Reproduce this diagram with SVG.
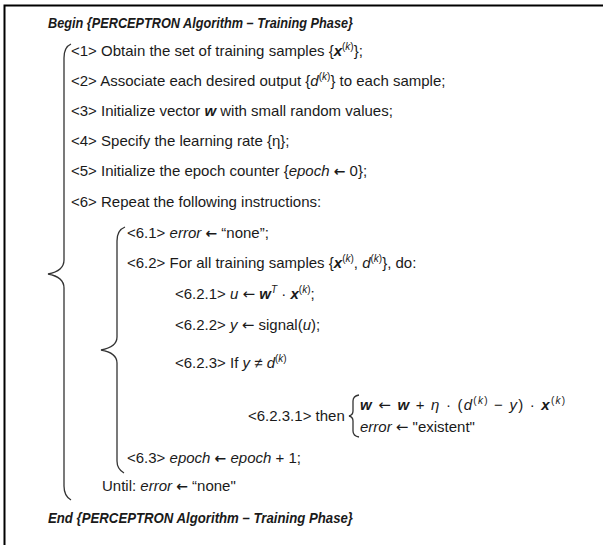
<svg xmlns="http://www.w3.org/2000/svg" width="613" height="545" viewBox="0 0 613 545">
<style>
.t{font-family:"Liberation Sans",Arial,Helvetica,sans-serif;font-size:15px;fill:#1a1a1a}
.h{font-weight:bold;font-style:italic}
.i{font-style:italic}
.bi{font-weight:bold;font-style:italic}
.s{font-size:10px}
.a{font-family:"DejaVu Sans",sans-serif;font-size:15px}
.ab{font-family:"DejaVu Sans",sans-serif;font-size:14px;font-weight:bold}
.br{fill:none;stroke:#333;stroke-width:1.3}
.frame{fill:none;stroke:#000;stroke-width:2}
</style>
<rect width="613" height="545" fill="#fff"/>
<g id="frame"><path class="frame" d="M4.5,546 V5.5 H603"/></g>
<g id="braces">
<path class="br" d="M71,44 Q64,47 64,58 V260 Q64,271 48,274 Q64,277 64,288 V486 Q64,496 71,500"/>
<path class="br" d="M125,227 Q117,230 117,241 V337 Q117,347 101,350 Q117,353 117,363 V461 Q117,469 124,473"/>
<path class="br" d="M359,395 Q353,396 353,401 V411 Q353,415 349,416 Q353,417 353,421 V431 Q353,436 359,437"/>
</g>
<g id="title"><text class="t h" x="48" y="28" textLength="305" lengthAdjust="spacingAndGlyphs">Begin {PERCEPTRON Algorithm – Training Phase}</text></g>
<g id="s1"><text class="t" x="71" y="56">&lt;1&gt; Obtain the set of training samples {<tspan class="bi">x</tspan><tspan class="s" dy="-6">(<tspan class="i">k</tspan>)</tspan><tspan dy="6">};</tspan></text></g>
<g id="s2"><text class="t" x="71" y="86">&lt;2&gt; Associate each desired output {<tspan class="i">d</tspan><tspan class="s" dy="-6">(<tspan class="i">k</tspan>)</tspan><tspan dy="6">} to each sample;</tspan></text></g>
<g id="s3"><text class="t" x="71" y="116">&lt;3&gt; Initialize vector <tspan class="bi">w</tspan> with small random values;</text></g>
<g id="s4"><text class="t" x="71" y="146">&lt;4&gt; Specify the learning rate {η};</text></g>
<g id="s5"><text class="t" x="71" y="176">&lt;5&gt; Initialize the epoch counter {<tspan class="i">epoch</tspan> <tspan class="ab">←</tspan> 0};</text></g>
<g id="s6"><text class="t" x="71" y="207">&lt;6&gt; Repeat the following instructions:</text></g>
<g id="s61"><text class="t" x="127" y="238">&lt;6.1&gt; <tspan class="i">error</tspan> <tspan class="ab">←</tspan> “none”;</text></g>
<g id="s62"><text class="t" x="127" y="268">&lt;6.2&gt; For all training samples {<tspan class="bi">x</tspan><tspan class="s" dy="-6">(<tspan class="i">k</tspan>)</tspan><tspan dy="6">, </tspan><tspan class="i">d</tspan><tspan class="s" dy="-6">(<tspan class="i">k</tspan>)</tspan><tspan dy="6">}, do:</tspan></text></g>
<g id="s621"><text class="t" x="175" y="299">&lt;6.2.1&gt; <tspan class="i">u</tspan> <tspan class="a">←</tspan> <tspan class="bi">w</tspan><tspan class="s i" dy="-6">T</tspan><tspan dy="6"> · </tspan><tspan class="bi">x</tspan><tspan class="s" dy="-6">(<tspan class="i">k</tspan>)</tspan><tspan dy="6">;</tspan></text></g>
<g id="s622"><text class="t" x="175" y="330">&lt;6.2.2&gt; <tspan class="i">y</tspan> <tspan class="a">←</tspan> signal(<tspan class="i">u</tspan>);</text></g>
<g id="s623"><text class="t" x="175" y="368">&lt;6.2.3&gt; If <tspan class="i">y</tspan> ≠ <tspan class="i">d</tspan><tspan class="s" dy="-6">(<tspan class="i">k</tspan>)</tspan></text></g>
<g id="s6231">
<text class="t" x="248" y="421">&lt;6.2.3.1&gt; then</text>
<text class="t" x="360" y="410" textLength="205" lengthAdjust="spacing"><tspan class="bi">w</tspan> <tspan class="a">←</tspan> <tspan class="bi">w</tspan> + <tspan class="i">η</tspan> · (<tspan class="i">d</tspan><tspan class="s" dy="-6">(<tspan class="i">k</tspan>)</tspan><tspan dy="6"> − </tspan><tspan class="i">y</tspan>) · <tspan class="bi">x</tspan><tspan class="s" dy="-6">(<tspan class="i">k</tspan>)</tspan></text>
<text class="t" x="360" y="432"><tspan class="i">error</tspan> <tspan class="a">←</tspan> "existent"</text>
</g>
<g id="s63"><text class="t" x="127" y="463">&lt;6.3&gt; <tspan class="i">epoch</tspan> <tspan class="ab">←</tspan> <tspan class="i">epoch</tspan> + 1;</text></g>
<g id="until"><text class="t" x="102" y="491">Until: <tspan class="i">error</tspan> <tspan class="ab">←</tspan> “none"</text></g>
<g id="end"><text class="t h" x="48" y="523" textLength="305" lengthAdjust="spacingAndGlyphs">End {PERCEPTRON Algorithm – Training Phase}</text></g>
</svg>
